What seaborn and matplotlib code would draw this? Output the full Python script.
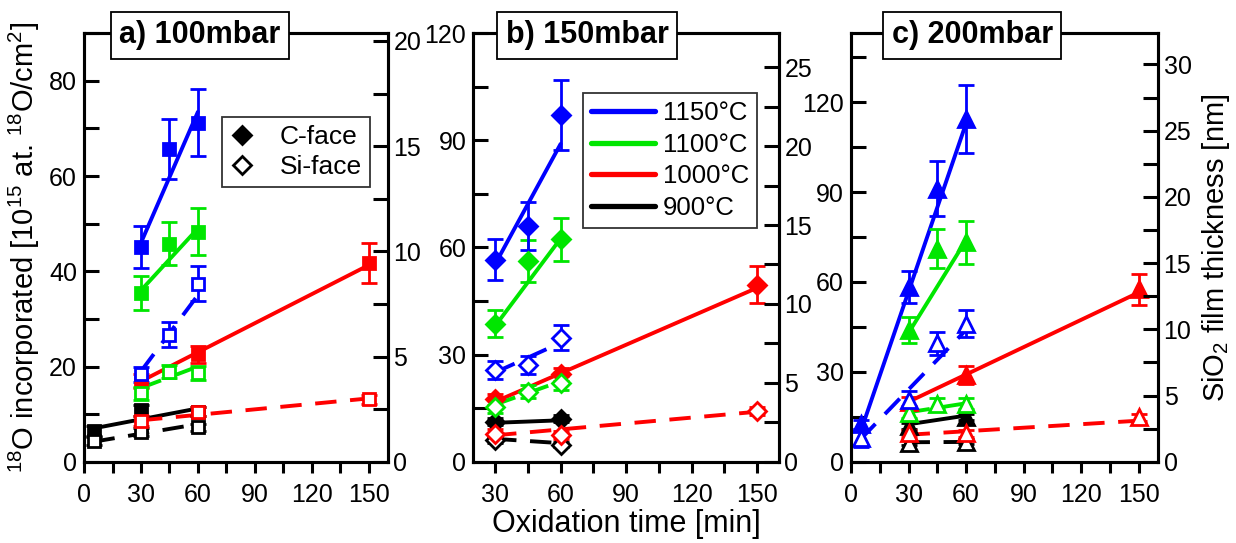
import matplotlib
matplotlib.use("Agg")
import matplotlib.pyplot as plt
import seaborn as sns
from matplotlib.lines import Line2D
from matplotlib.ticker import MultipleLocator

# ---------------------------------------------------------------- data
# each series: (oxidation time [min], 18O incorporated [1e15 at/cm2], error)
# each fit: (time span, fitted values at the two ends)
TEMPS = ["1150°C", "1100°C", "1000°C", "900°C"]
COLORS = ["#0000ff", "#00e600", "#ff0000", "#000000"]

# a) 100 mbar
A_C_1150 = ([30, 45, 60], [45.1, 65.7, 71.2], [4.5, 6.3, 7.0])
A_C_1100 = ([30, 45, 60], [35.4, 45.8, 48.3], [3.6, 4.5, 4.9])
A_C_1000 = ([30, 60, 150], [17.0, 22.6, 41.8], [1.5, 1.8, 4.2])
A_C_900 = ([5, 30, 60], [6.5, 10.8, 10.5], [1.0, 1.2, 1.0])
A_S_1150 = ([30, 45, 60], [18.4, 26.7, 37.4], [1.6, 2.6, 3.7])
A_S_1100 = ([30, 45, 60], [14.4, 18.9, 18.7], [1.4, 1.4, 1.5])
A_S_1000 = ([30, 60, 150], [8.6, 10.5, 13.1], [1.0, 1.0, 1.0])
A_S_900 = ([5, 30, 60], [4.3, 6.3, 7.2], [0.8, 0.8, 0.8])
A_C_FIT = [([30, 60], [46.0, 73.5]), ([30, 60], [36.0, 49.0]),
           ([30, 150], [16.9, 41.3]), ([5, 60], [7.0, 11.2])]
A_S_FIT = [([30, 60], [19.0, 35.0]), ([30, 60], [15.5, 20.0]),
           ([30, 150], [8.7, 13.3]), ([5, 60], [4.2, 7.9])]

# b) 150 mbar
B_C_1150 = ([30, 45, 60], [56.6, 66.0, 97.1], [5.7, 6.7, 9.7])
B_C_1100 = ([30, 45, 60], [38.7, 56.2, 62.3], [3.9, 6.0, 6.1])
B_C_1000 = ([30, 60, 150], [17.5, 24.5, 49.6], [1.5, 1.8, 5.2])
B_C_900 = ([30, 60], [11.2, 12.0], [1.0, 1.0])
B_S_1150 = ([30, 45, 60], [25.7, 27.1, 34.7], [2.6, 2.6, 3.5])
B_S_1100 = ([30, 45, 60], [15.4, 19.6, 22.0], [1.8, 1.8, 2.0])
B_S_1000 = ([30, 60, 150], [7.9, 7.5, 14.2], [1.2, 1.2, 1.2])
B_S_900 = ([30, 60], [6.0, 4.8], [0.8, 0.8])
B_C_FIT = [([30, 60], [55.3, 89.0]), ([30, 60], [38.0, 62.5]),
           ([30, 150], [16.8, 48.7]), ([30, 60], [10.9, 11.6])]
B_S_FIT = [([30, 60], [25.0, 33.3]), ([30, 60], [16.0, 22.5]),
           ([30, 150], [7.4, 14.0]), ([30, 60], [6.4, 5.2])]

# c) 200 mbar
C_C_1150 = ([5, 30, 45, 60], [12.5, 58.3, 91.1, 114.5], [1.5, 5.4, 9.2, 11.3])
C_C_1100 = ([30, 45, 60], [43.9, 71.1, 73.3], [4.4, 6.5, 7.2])
C_C_1000 = ([30, 60, 150], [20.0, 28.9, 57.5], [1.5, 3.0, 5.2])
C_C_900 = ([30, 60], [12.0, 15.0], [1.0, 1.0])
C_S_1150 = ([5, 30, 45, 60], [8.0, 20.6, 39.5, 46.1], [3.0, 3.0, 3.9, 4.4])
C_S_1100 = ([30, 45, 60], [16.3, 19.3, 19.3], [1.8, 1.8, 1.8])
C_S_1000 = ([30, 60, 150], [9.5, 9.5, 14.8], [1.2, 1.2, 1.2])
C_S_900 = ([30, 60], [6.4, 6.7], [0.8, 0.8])
C_C_FIT = [([5, 60], [10.0, 113.0]), ([30, 60], [43.0, 74.0]),
           ([30, 150], [20.0, 56.5]), ([30, 60], [12.5, 15.4])]
C_S_FIT = [([5, 60], [7.5, 44.0]), ([30, 60], [16.5, 19.5]),
           ([30, 150], [9.0, 13.7]), ([30, 60], [6.5, 6.6])]

TITLES = ["a) 100mbar", "b) 150mbar", "c) 200mbar"]
XLIMS = [(0, 160), (20, 160), (0, 160)]
YLIMS = [90, 120, 143]
YMAJOR = [20, 30, 30]
YMINOR = [10, 15, 15]
XTICKS = [[0, 30, 60, 90, 120, 150], [30, 60, 90, 120, 150], [0, 30, 60, 90, 120, 150]]
THICK_PER_O = 4.42          # 1e15 18O/cm2 per nm of SiO2
MARKERS = ["s", "D", "^"]
MSIZE = [9.0, 9.0, 12.0]

PANELS = [
    ([A_C_900, A_C_1000, A_C_1100, A_C_1150], [A_S_900, A_S_1000, A_S_1100, A_S_1150], A_C_FIT, A_S_FIT),
    ([B_C_900, B_C_1000, B_C_1100, B_C_1150], [B_S_900, B_S_1000, B_S_1100, B_S_1150], B_C_FIT, B_S_FIT),
    ([C_C_900, C_C_1000, C_C_1100, C_C_1150], [C_S_900, C_S_1000, C_S_1100, C_S_1150], C_C_FIT, C_S_FIT),
]

# ---------------------------------------------------------------- style
sns.set_theme(style="ticks")
plt.rcParams["font.family"] = ["Liberation Sans", "DejaVu Sans"]
plt.rcParams["mathtext.fontset"] = "custom"
plt.rcParams["mathtext.rm"] = "Liberation Sans"
plt.rcParams["mathtext.it"] = "Liberation Sans:italic"
plt.rcParams["mathtext.bf"] = "Liberation Sans:bold"
for key in ("text.color", "axes.labelcolor", "xtick.color", "ytick.color",
            "axes.edgecolor"):
    plt.rcParams[key] = "black"

TICK_FS = 18
LABEL_FS = 21
SPINE_W = 2.2

fig = plt.figure(figsize=(12.36, 5.43), dpi=100)
bottom, height = 0.1497, 0.789
lefts = [0.0680, 0.3829, 0.6885]
widths = [0.2457, 0.2473, 0.2484]
title_x = [0.382, 0.3726, 0.395]

for i in range(3):
    ax = fig.add_axes([lefts[i], bottom, widths[i], height])
    ax2 = ax.twinx()
    c_series, s_series, c_fits, s_fits = PANELS[i]
    color_order = COLORS[::-1]          # 900, 1000, 1100, 1150

    # fit lines
    for fits, ls in ((c_fits, "-"), (s_fits, (0, (5.5, 3.5)))):
        for (ft, fv), col in zip(fits, COLORS):
            sns.lineplot(x=ft, y=fv, ax=ax, color=col, linewidth=2.8,
                         linestyle=ls, legend=False, zorder=2)

    # measured points with error bars
    for series, filled in ((c_series, True), (s_series, False)):
        for (t, v, e), col in zip(series, color_order):
            ax.errorbar(t, v, yerr=e, fmt=MARKERS[i], color=col, mec=col,
                        mfc=col if filled else "white", ms=MSIZE[i], mew=2.0,
                        elinewidth=2.0, capsize=5.5, capthick=2.0,
                        linestyle="none", zorder=3)

    ax.set_xlim(*XLIMS[i])
    ax.set_ylim(0, YLIMS[i])
    ax2.set_ylim(0, YLIMS[i] / THICK_PER_O)
    ax.set_xticks(XTICKS[i])
    ax.xaxis.set_minor_locator(MultipleLocator(15))
    ax.yaxis.set_major_locator(MultipleLocator(YMAJOR[i]))
    ax.yaxis.set_minor_locator(MultipleLocator(YMINOR[i]))
    ax2.yaxis.set_major_locator(MultipleLocator(5))
    ax2.yaxis.set_minor_locator(MultipleLocator(2.5))

    ax.tick_params(axis="x", which="both", direction="out", length=8, width=SPINE_W,
                   labelsize=TICK_FS, pad=7, top=False, bottom=True)
    ax.tick_params(axis="y", which="both", direction="in", length=11, width=SPINE_W,
                   labelsize=TICK_FS, pad=5, right=False, left=True)
    ax2.tick_params(axis="y", which="both", direction="in", length=11, width=SPINE_W,
                    labelsize=TICK_FS, pad=4, right=True, left=False)
    for a in (ax, ax2):
        for sp in a.spines.values():
            sp.set_linewidth(SPINE_W)
            sp.set_color("black")
    ax.grid(False)
    ax2.grid(False)
    ax.set_xlabel("")
    ax.set_ylabel("")

    ax2.text(title_x[i], 0.995, TITLES[i], transform=ax2.transAxes, ha="center",
             va="center", fontsize=22, fontweight="bold", zorder=10,
             bbox=dict(boxstyle="square,pad=0.28", fc="white", ec="black", lw=1.3))

    if i == 0:
        ax.set_ylabel(r"$^{18}$O incorporated [10$^{15}$ at. $^{18}$O/cm$^{2}$]",
                      fontsize=LABEL_FS, labelpad=5)
        handles = [Line2D([], [], marker="D", ls="none", color="black", mfc="black",
                          ms=9, mew=2.0),
                   Line2D([], [], marker="D", ls="none", color="black", mfc="white",
                          ms=9, mew=2.0)]
        leg = ax.legend(handles, ["C-face", "Si-face"], loc="upper right",
                        bbox_to_anchor=(0.942, 0.805), fontsize=19, frameon=True,
                        fancybox=False, edgecolor="black", handlelength=0.9,
                        handletextpad=1.0, borderpad=0.3, labelspacing=0.25,
                        borderaxespad=0)
        leg.get_frame().set_linewidth(1.3)
    if i == 1:
        ax.set_xlabel("Oxidation time [min]", fontsize=22, labelpad=2)
        handles = [Line2D([], [], color=c, lw=3.8) for c in COLORS]
        leg = ax.legend(handles, TEMPS, loc="upper right", bbox_to_anchor=(0.927, 0.86),
                        fontsize=18.5, frameon=True, fancybox=False, edgecolor="black",
                        handlelength=2.5, handletextpad=0.3, borderpad=0.3,
                        labelspacing=0.3, borderaxespad=0)
        leg.get_frame().set_linewidth(1.3)
    if i == 2:
        ax2.set_ylabel("SiO$_2$ film thickness [nm]", fontsize=LABEL_FS, labelpad=6)

fig.savefig("out.png", dpi=100)
